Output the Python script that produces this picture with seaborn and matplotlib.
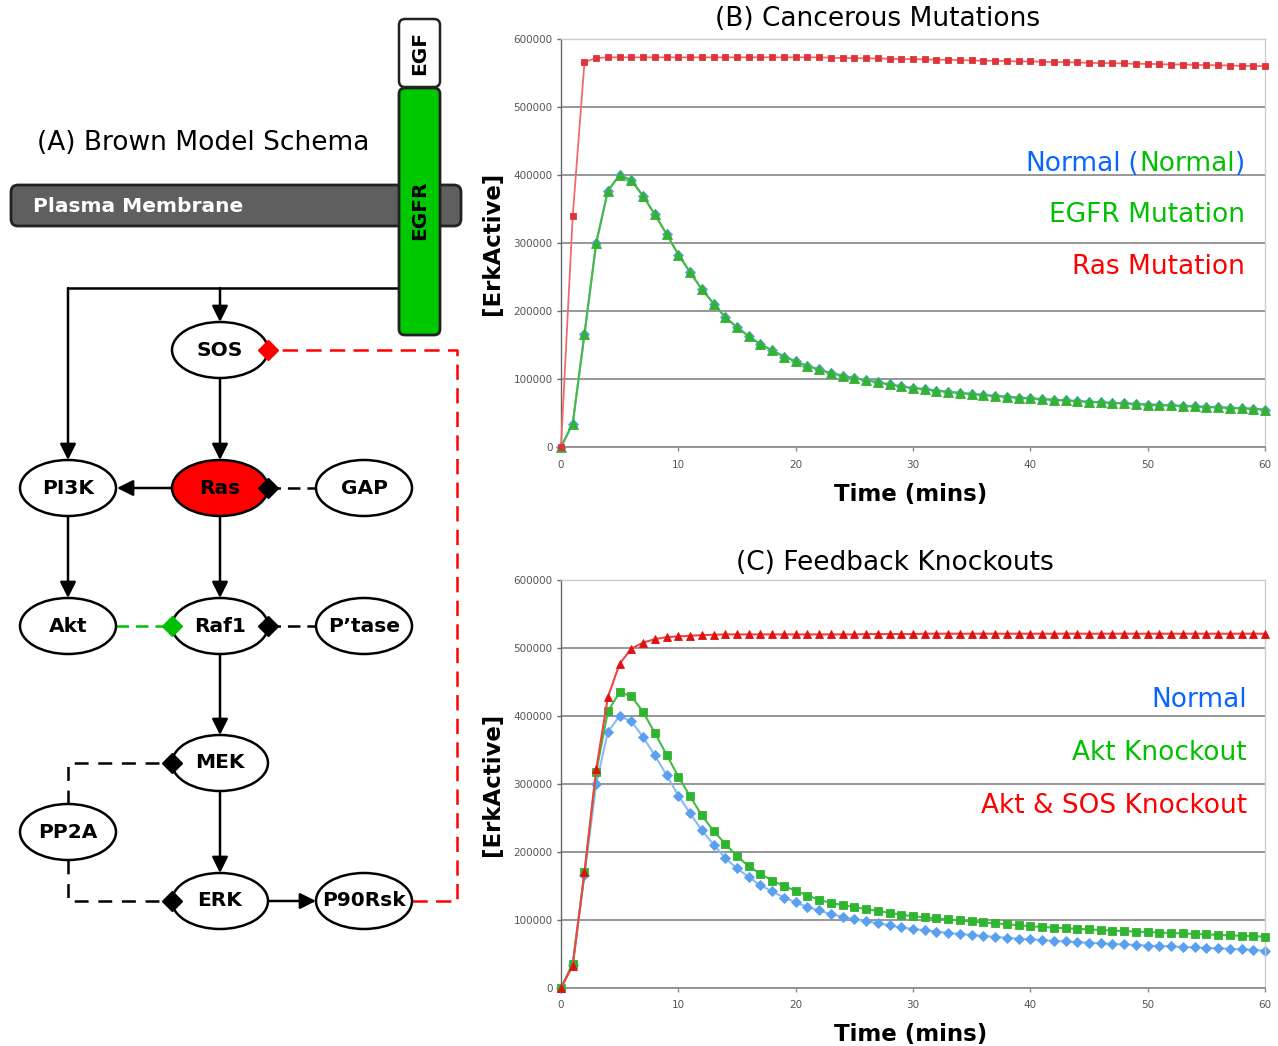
import matplotlib
matplotlib.use("Agg")
import matplotlib.pyplot as plt
import seaborn as sns
from matplotlib.patches import Ellipse, FancyBboxPatch

# ---------------- data ----------------
time_min = list(range(61))

normal = [0, 34500, 166000, 300000, 377000, 400000, 392000, 369000, 342000, 313000,
          283000, 257000, 232000, 211000, 191000, 176000, 163000, 151000, 142000, 133000,
          126000, 119000, 114000, 108500, 105000, 101000, 98500, 95000, 92000, 89000,
          86700, 85000, 83000, 81200, 79500, 78000, 76500, 75200, 73900, 72600,
          71400, 70400, 69400, 68400, 67500, 66600, 65700, 64900, 64100, 63300,
          62500, 61800, 61100, 60400, 59700, 59000, 58300, 57600, 56900, 56200, 55000]

egfr_mutation = [0, 34500, 166000, 300000, 377000, 400000, 392000, 369000, 342000, 313000,
                 283000, 257000, 232000, 211000, 191000, 176000, 163000, 151000, 142000, 133000,
                 126000, 119000, 114000, 108500, 105000, 101000, 98500, 95000, 92000, 89000,
                 86700, 85000, 83000, 81200, 79500, 78000, 76500, 75200, 73900, 72600,
                 71400, 70400, 69400, 68400, 67500, 66600, 65700, 64900, 64100, 63300,
                 62500, 61800, 61100, 60400, 59700, 59000, 58300, 57600, 56900, 56200, 55000]

ras_mutation = [0, 340000, 566000, 572000, 573000, 573000, 573000, 573000, 573000, 573000,
                573000, 573000, 573000, 573000, 573000, 573000, 573000, 573000, 573000, 573000,
                573000, 573000, 573000, 572500, 572000, 572000, 571500, 571500, 571000, 570500,
                570500, 570000, 569500, 569500, 569000, 568500, 568000, 568000, 567500, 567000,
                567000, 566500, 566000, 566000, 565500, 565000, 564500, 564500, 564000, 563500,
                563500, 563000, 562500, 562500, 562000, 561500, 561500, 561000, 560500, 560500, 560000]

akt_knockout = [0, 36000, 170000, 317000, 407000, 435000, 429000, 406000, 375000, 343000,
                311000, 282000, 254000, 231000, 212000, 194000, 179000, 168000, 158000, 150000,
                143000, 136000, 130000, 125000, 122000, 119000, 116000, 113500, 110500, 108000,
                105500, 104000, 102300, 100800, 99300, 97800, 96400, 95000, 93700, 92200,
                90800, 89800, 88800, 87900, 87000, 86100, 85300, 84500, 83700, 83000,
                82300, 81600, 80900, 80200, 79500, 78800, 78100, 77400, 76800, 76200, 75500]

akt_sos_knockout = [0, 33000, 170000, 322000, 428000, 477000, 499000, 508000, 513000, 516000,
                    517000, 518000, 519000, 519500, 520000, 520000, 520000, 520000, 520000, 520000,
                    520000, 520000, 520000, 520000, 520000, 520000, 520500, 520500, 520500, 520500,
                    520500, 521000, 521000, 521000, 521000, 521000, 521000, 521000, 521000, 521000,
                    521000, 521000, 521000, 521000, 521000, 521000, 521000, 521000, 521000, 521000,
                    521000, 521000, 521000, 521000, 521000, 521000, 521000, 521000, 521000, 521000, 521000]

x_ticks = [0, 10, 20, 30, 40, 50, 60]
y_ticks = [0, 100000, 200000, 300000, 400000, 500000, 600000]
y_tick_labels = ["0", "100000", "200000", "300000", "400000", "500000", "600000"]

# ---------------- style ----------------
sns.set_style("white")
plt.rcParams["font.family"] = ["DejaVu Sans"]
plt.rcParams["lines.scale_dashes"] = False
plt.rcParams["text.color"] = "black"
plt.rcParams["axes.labelcolor"] = "black"

W, H = 1278, 1046
fig = plt.figure(figsize=(W / 100, H / 100), dpi=100)
fig.patch.set_facecolor("white")

BLUE_T = "#0a64ff"
GREEN_T = "#00c000"
RED_T = "#ff0000"

# ---------------- schema (panel A) ----------------
dax = fig.add_axes([0, 0, 1, 1])
dax.set_xlim(0, W)
dax.set_ylim(H, 0)
dax.axis("off")

dax.text(37, 143, "(A) Brown Model Schema", fontsize=19, ha="left", va="center", color="black")

dax.add_patch(FancyBboxPatch((11, 185), 450, 41, boxstyle="round,pad=0,rounding_size=7",
                             fc="#5f5f5f", ec="#222222", lw=2, zorder=2))
dax.text(33, 206, "Plasma Membrane", color="white", fontsize=14.5, fontweight="bold",
         ha="left", va="center", zorder=3)
dax.add_patch(FancyBboxPatch((399, 19), 41, 68, boxstyle="round,pad=0,rounding_size=6",
                             fc="white", ec="#222222", lw=1.8, zorder=3))
dax.text(420, 53, "EGF", rotation=90, fontsize=14.5, fontweight="bold",
         ha="center", va="center", zorder=4, color="black")
dax.add_patch(FancyBboxPatch((399, 88), 41, 247, boxstyle="round,pad=0,rounding_size=6",
                             fc="#00c800", ec="#222222", lw=2, zorder=3))
dax.text(420, 210, "EGFR", rotation=90, fontsize=14.5, fontweight="bold",
         ha="center", va="center", zorder=4, color="black")

nodes = {
    "SOS": (220, 350, "white"), "PI3K": (68, 488, "white"), "Ras": (220, 488, "#ff0000"),
    "GAP": (364, 488, "white"), "Akt": (68, 626, "white"), "Raf1": (220, 626, "white"),
    "P\u2019tase": (364, 626, "white"), "MEK": (220, 763, "white"), "PP2A": (68, 832, "white"),
    "ERK": (220, 901, "white"), "P90Rsk": (364, 901, "white"),
}
for name, (cx, cy, fc) in nodes.items():
    dax.add_patch(Ellipse((cx, cy), 96, 56, fc=fc, ec="black", lw=1.8, zorder=3))
    dax.text(cx, cy, name, ha="center", va="center", fontsize=14.5, fontweight="bold",
             zorder=4, color="black")


def arrow(x1, y1, x2, y2):
    dax.annotate("", xy=(x2, y2), xytext=(x1, y1),
                 arrowprops=dict(arrowstyle="-|>,head_length=0.8,head_width=0.4",
                                 color="black", lw=1.8, shrinkA=0, shrinkB=0,
                                 mutation_scale=12), zorder=2)


dax.plot([399, 68], [288, 288], color="black", lw=1.8, zorder=2)
arrow(68, 288, 68, 460)
arrow(220, 288, 220, 322)
arrow(220, 378, 220, 460)
arrow(172, 488, 117, 488)
arrow(68, 516, 68, 598)
arrow(220, 516, 220, 598)
arrow(220, 654, 220, 735)
arrow(220, 791, 220, 873)
arrow(268, 901, 316, 901)

dax.plot([268, 316], [488, 488], color="black", lw=1.8, ls=(0, (9, 5)), zorder=2)
dax.plot([268, 316], [626, 626], color="black", lw=1.8, ls=(0, (9, 5)), zorder=2)
dax.plot([116, 172], [626, 626], color="#00c000", lw=1.8, ls=(0, (9, 5)), zorder=2)
dax.plot([68, 68, 172], [804, 763, 763], color="black", lw=1.8, ls=(0, (10, 7)), zorder=2)
dax.plot([68, 68, 172], [860, 901, 901], color="black", lw=1.8, ls=(0, (10, 7)), zorder=2)
dax.plot([412, 457, 457, 268], [901, 901, 350, 350], color="#ff0000", lw=1.8,
         ls=(0, (11, 6)), zorder=2)

for (dx, dy, dc) in [(268, 488, "black"), (268, 626, "black"), (172, 763, "black"),
                     (172, 901, "black"), (172, 626, "#00c000"), (268, 350, "#ff0000")]:
    dax.plot([dx], [dy], marker="D", ms=10, color=dc, mec=dc, zorder=5)

# ---------------- charts ----------------
def make_axes(top_px, xlab_y):
    left, right, bottom = 561, 1265, top_px + 408
    ax = fig.add_axes([left / W, 1 - bottom / H, (right - left) / W, 408 / H])
    ax.set_facecolor("white")
    ax.set_xlim(0, 60)
    ax.set_ylim(0, 600000)
    ax.set_xticks(x_ticks)
    ax.set_xticklabels([str(v) for v in x_ticks])
    ax.set_yticks(y_ticks)
    ax.set_yticklabels(y_tick_labels)
    ax.grid(axis="y", color="#8f8f8f", lw=1.3)
    ax.grid(axis="x", visible=False)
    ax.set_axisbelow(True)
    for s in ["top", "right"]:
        ax.spines[s].set_color("#cccccc")
        ax.spines[s].set_linewidth(1)
    ax.spines["left"].set_color("#666666")
    ax.spines["left"].set_linewidth(1)
    ax.spines["bottom"].set_color("#8f8f8f")
    ax.spines["bottom"].set_linewidth(1.3)
    ax.tick_params(axis="y", length=3, width=1, color="#666666", labelsize=7.5,
                   labelcolor="#555555", pad=3, left=True)
    ax.tick_params(axis="x", length=3, width=1, color="#888888", labelsize=7.5,
                   labelcolor="#555555", pad=6, bottom=True)
    ax.set_xlabel("Time (mins)", fontsize=16.5, fontweight="bold", color="black")
    ax.set_ylabel("[ErkActive]", fontsize=16.5, fontweight="bold", color="black")
    ax.xaxis.set_label_coords(0.496, xlab_y)
    ax.yaxis.set_label_coords(-0.081, 0.5)
    return ax


def series(ax, y, color, line, marker, ms, lw=1.5, z=3):
    sns.lineplot(x=time_min, y=y, ax=ax, color=line, lw=lw, marker=marker, ms=ms,
                 mfc=color, mec=color, mew=0.6, clip_on=False, zorder=z)


renderer = fig.canvas.get_renderer()


def color_label(x_px, y_base_px, pieces, size=19):
    x = x_px
    for txt, col in reversed(pieces):
        t = fig.text(x / W, 1 - y_base_px / H, txt, ha="right", va="baseline",
                     color=col, fontsize=size)
        bb = t.get_window_extent(renderer)
        x = bb.x0


# Panel B
axB = make_axes(39, -0.088)
series(axB, normal, "#5aa0f0", "#88bbf5", "D", 5, z=2)
series(axB, egfr_mutation, "#33b233", "#44bb44", "^", 6.5, z=3)
series(axB, ras_mutation, "#e0343c", "#f26a6a", "s", 5, lw=1.3, z=4)
axB.text(0.45, 1.049, "(B) Cancerous Mutations", transform=axB.transAxes,
         ha="center", va="center", fontsize=19, color="black")
color_label(1245, 171, [("Normal", BLUE_T), (" (", BLUE_T), ("Normal", GREEN_T), (")", BLUE_T)])
color_label(1245, 222, [("EGFR Mutation", GREEN_T)])
color_label(1245, 274, [("Ras Mutation", RED_T)])

# Panel C
axC = make_axes(580, -0.086)
series(axC, normal, "#5aa0f0", "#88bbf5", "D", 5, z=2)
series(axC, akt_knockout, "#2fb52f", "#44bb44", "s", 6, z=3)
series(axC, akt_sos_knockout, "#e01010", "#ee4444", "^", 5.5, z=4)
axC.text(0.474, 1.042, "(C) Feedback Knockouts", transform=axC.transAxes,
         ha="center", va="center", fontsize=19, color="black")
color_label(1247, 707, [("Normal", BLUE_T)])
color_label(1247, 760, [("Akt Knockout", GREEN_T)])
color_label(1247, 813, [("Akt & SOS Knockout", RED_T)])

fig.savefig("out.png", dpi=100, facecolor="white")
